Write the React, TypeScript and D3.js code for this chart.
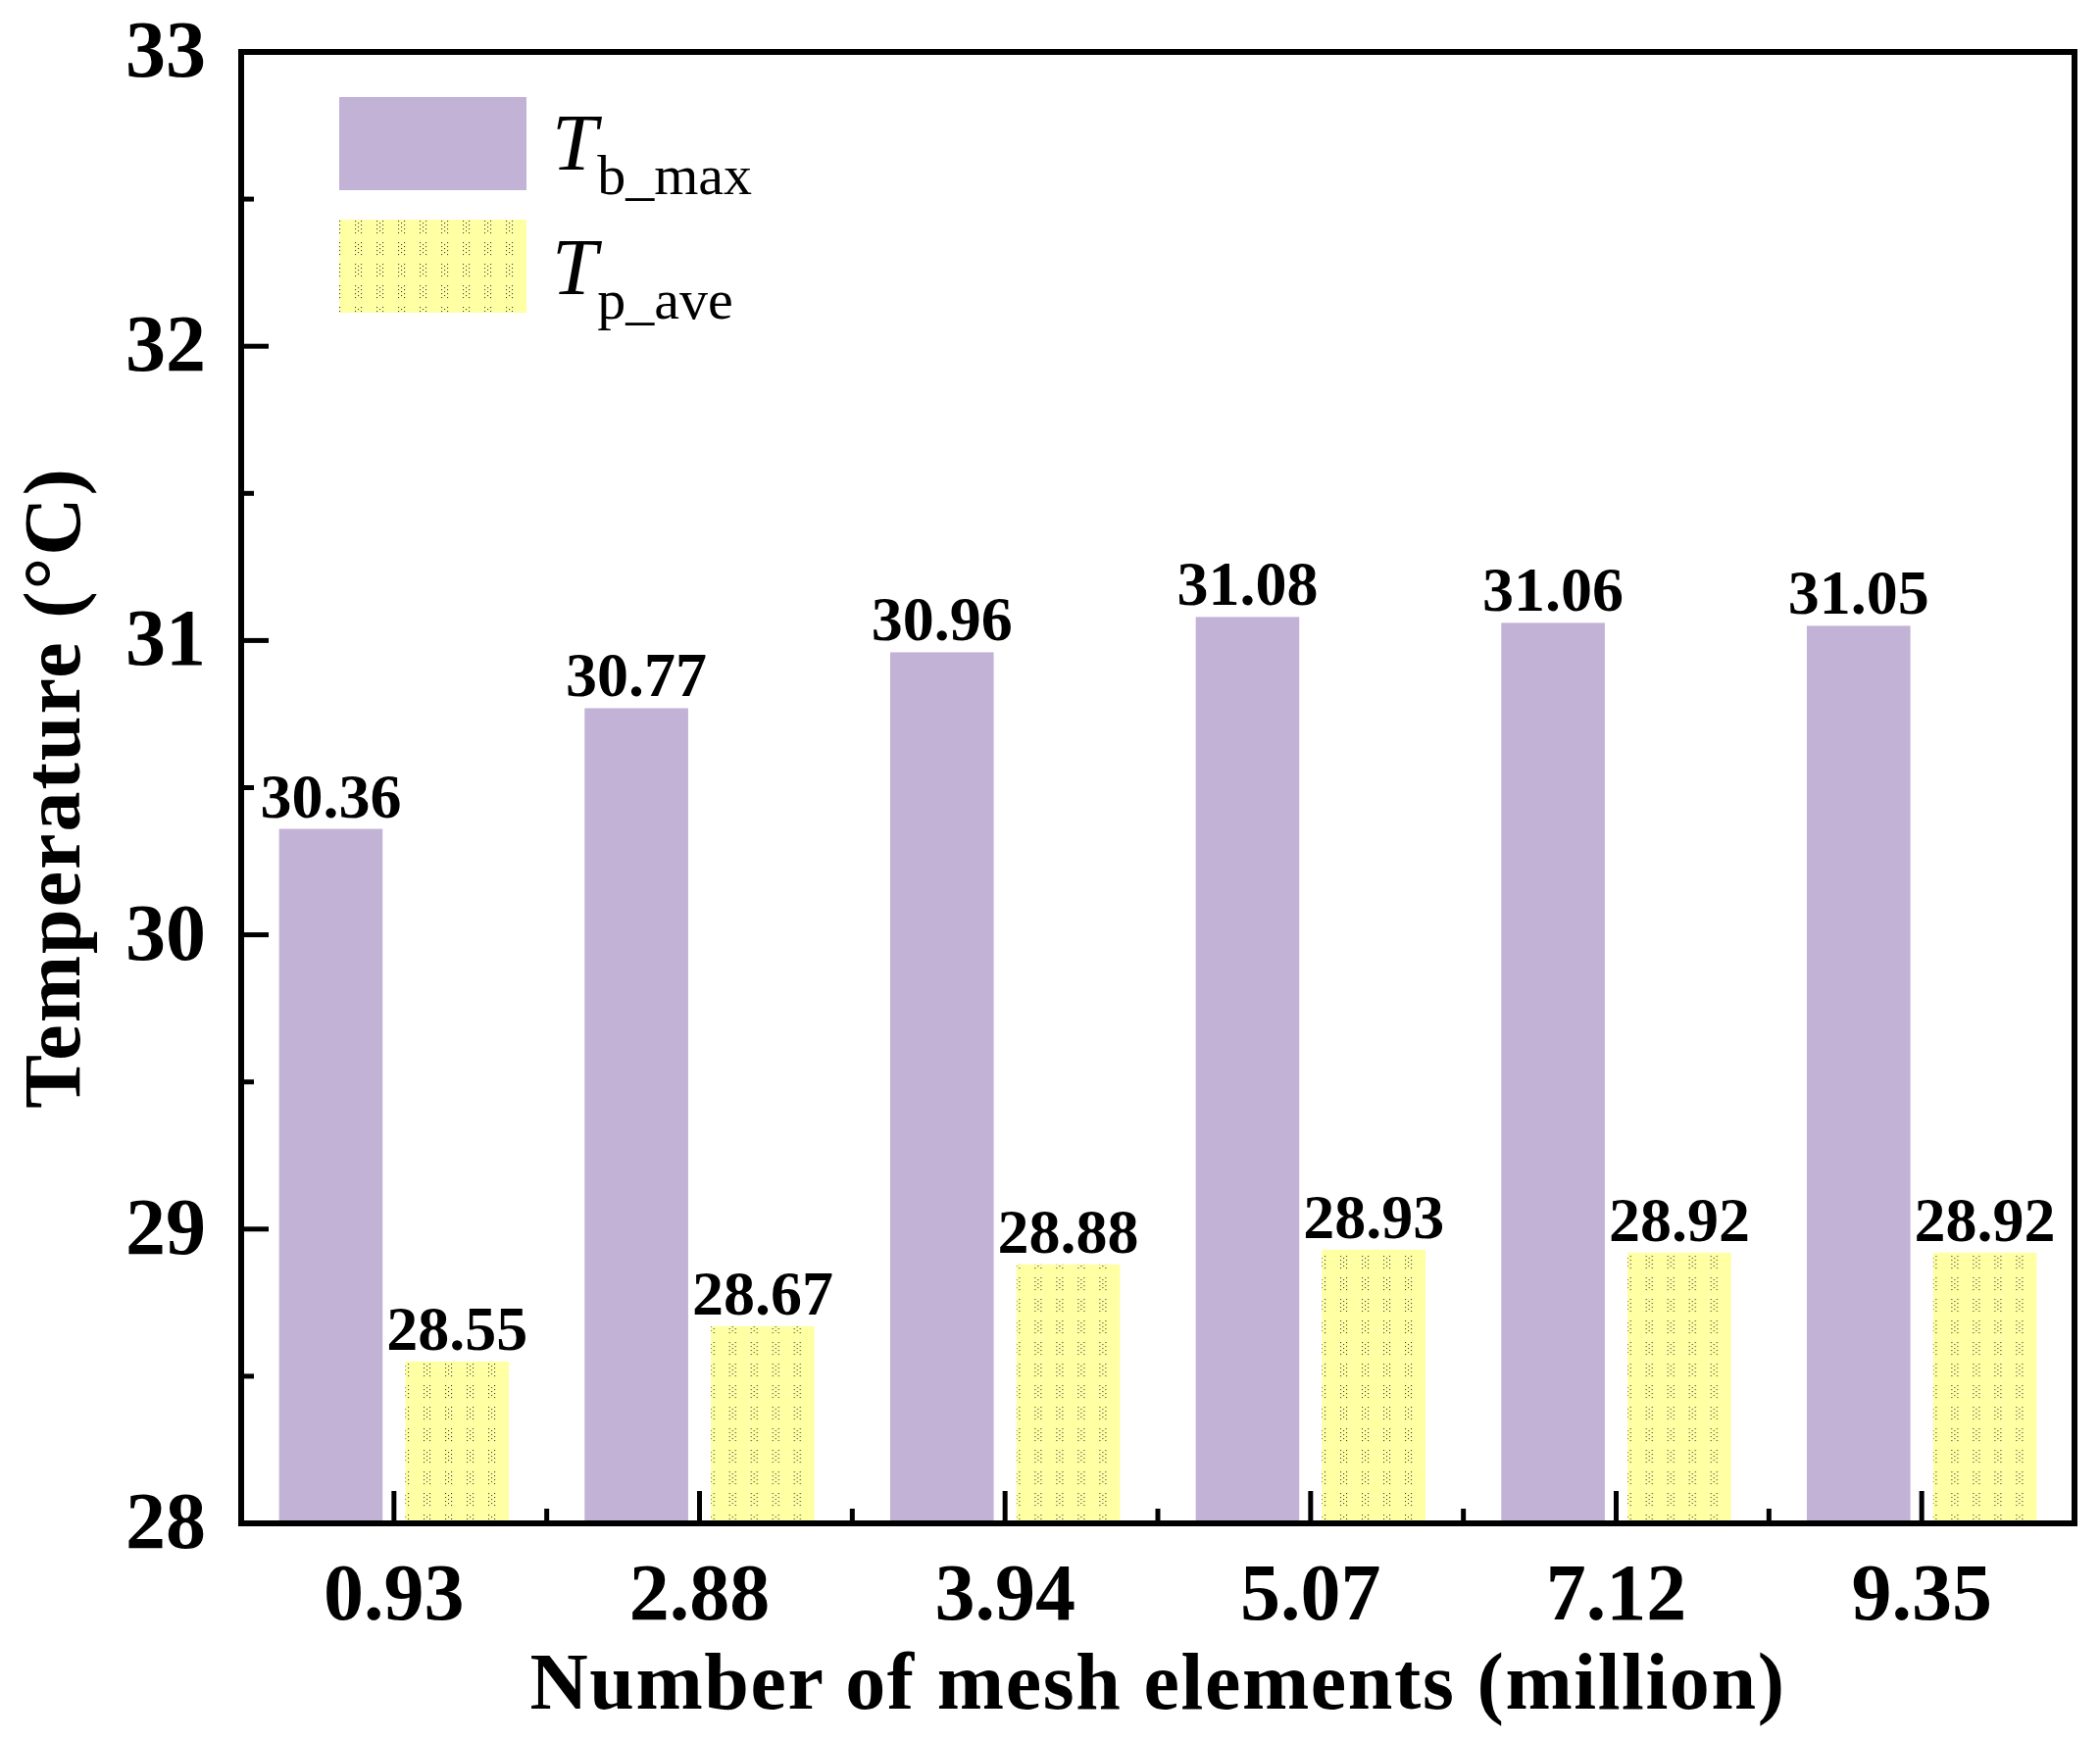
import React from "react";
import * as d3 from "d3";

const categories = ["0.93", "2.88", "3.94", "5.07", "7.12", "9.35"];
const tbMax = [30.36, 30.77, 30.96, 31.08, 31.06, 31.05];
const tpAve = [28.55, 28.67, 28.88, 28.93, 28.92, 28.92];
const yTicks = [28, 29, 30, 31, 32, 33];
const yMinor = [28.5, 29.5, 30.5, 31.5, 32.5];

const W = 2142;
const H = 1775;
const plot = { left: 246, right: 2116, top: 53, bottom: 1554 };
const FONT = "'Liberation Serif', 'Times New Roman', serif";
const PURPLE = "#C2B2D6";
const YELLOW = "#FFFFA3";

// dot cluster inside the hatch tile
const dotCluster = [
  [0, 0], [6, 0], [3, 2], [0, 4], [6, 4], [3, 6], [0, 8], [6, 8], [3, 10], [0, 12], [6, 12],
];

export default function App() {
  const x = d3.scaleBand<string>().domain(categories).range([plot.left, plot.right]).padding(0);
  const x1 = d3
    .scaleBand<string>()
    .domain(["b", "p"])
    .range([0, x.bandwidth()])
    .paddingInner(0.18)
    .paddingOuter(0.3);
  const y = d3.scaleLinear().domain([28, 33]).range([plot.bottom, plot.top]);

  const bounds = categories.slice(1).map((c) => x(c)!);

  return (
    <svg
      width={W}
      height={H}
      viewBox={`0 0 ${W} ${H}`}
      style={{ position: "absolute", left: 0, top: 0, background: "#fff" }}
      fontFamily={FONT}
    >
      <defs>
        <pattern id="dots" width={22} height={22} patternUnits="userSpaceOnUse" x={2} y={0}>
          <rect width={22} height={22} fill={YELLOW} />
          {dotCluster.map(([dx, dy], i) => (
            <rect key={i} x={8 + dx} y={5 + dy} width={1.1} height={1.1} fill="#444" />
          ))}
        </pattern>
      </defs>
      <rect width={W} height={H} fill="#fff" />

      {/* bars */}
      {categories.map((c, i) => (
        <g key={c} transform={`translate(${x(c)},0)`}>
          <rect
            x={x1("b")}
            y={y(tbMax[i])}
            width={x1.bandwidth()}
            height={plot.bottom - y(tbMax[i])}
            fill={PURPLE}
          />
          <rect
            x={x1("p")}
            y={y(tpAve[i])}
            width={x1.bandwidth()}
            height={plot.bottom - y(tpAve[i])}
            fill="url(#dots)"
          />
          <text
            x={x1("b")! + x1.bandwidth() / 2}
            y={y(tbMax[i]) - 12}
            textAnchor="middle"
            fontSize={64}
            fontWeight="bold"
          >
            {tbMax[i].toFixed(2)}
          </text>
          <text
            x={x1("p")! + x1.bandwidth() / 2}
            y={y(tpAve[i]) - 12}
            textAnchor="middle"
            fontSize={64}
            fontWeight="bold"
          >
            {tpAve[i].toFixed(2)}
          </text>
        </g>
      ))}

      {/* y ticks */}
      {yTicks.map((t) => (
        <g key={t}>
          <line x1={plot.left} x2={plot.left + 28} y1={y(t)} y2={y(t)} stroke="#000" strokeWidth={5} />
          <text x={210} y={y(t) + 25} textAnchor="end" fontSize={82} fontWeight="bold">
            {t}
          </text>
        </g>
      ))}
      {yMinor.map((t) => (
        <line key={t} x1={plot.left} x2={plot.left + 13} y1={y(t)} y2={y(t)} stroke="#000" strokeWidth={5} />
      ))}

      {/* x ticks */}
      {categories.map((c) => (
        <g key={c}>
          <line
            x1={x(c)! + x.bandwidth() / 2}
            x2={x(c)! + x.bandwidth() / 2}
            y1={plot.bottom}
            y2={plot.bottom - 33}
            stroke="#000"
            strokeWidth={5}
          />
          <text x={x(c)! + x.bandwidth() / 2} y={1652} textAnchor="middle" fontSize={82} fontWeight="bold">
            {c}
          </text>
        </g>
      ))}
      {bounds.map((b, i) => (
        <line key={i} x1={b} x2={b} y1={plot.bottom} y2={plot.bottom - 15} stroke="#000" strokeWidth={5} />
      ))}

      {/* frame */}
      <rect
        x={plot.left}
        y={plot.top}
        width={plot.right - plot.left}
        height={plot.bottom - plot.top}
        fill="none"
        stroke="#000"
        strokeWidth={6}
      />

      {/* axis titles */}
      <text
        x={(plot.left + plot.right) / 2}
        y={1743}
        textAnchor="middle"
        fontSize={82}
        fontWeight="bold"
        letterSpacing={1.6}
      >
        Number of mesh elements (million)
      </text>
      <text
        transform={`translate(81,${(plot.top + plot.bottom) / 2}) rotate(-90)`}
        textAnchor="middle"
        fontSize={82}
        fontWeight="bold"
        letterSpacing={2}
      >
        Temperature (°C)
      </text>

      {/* legend */}
      <rect x={346} y={99} width={191} height={95} fill={PURPLE} />
      <rect x={346} y={224} width={191} height={95} fill="url(#dots)" />
      <text x={563} y={173} fontSize={83}>
        <tspan fontStyle="italic">T</tspan>
        <tspan fontSize={58} dy={25}>b_max</tspan>
      </text>
      <text x={563} y={300} fontSize={83}>
        <tspan fontStyle="italic">T</tspan>
        <tspan fontSize={58} dy={25}>p_ave</tspan>
      </text>
    </svg>
  );
}
